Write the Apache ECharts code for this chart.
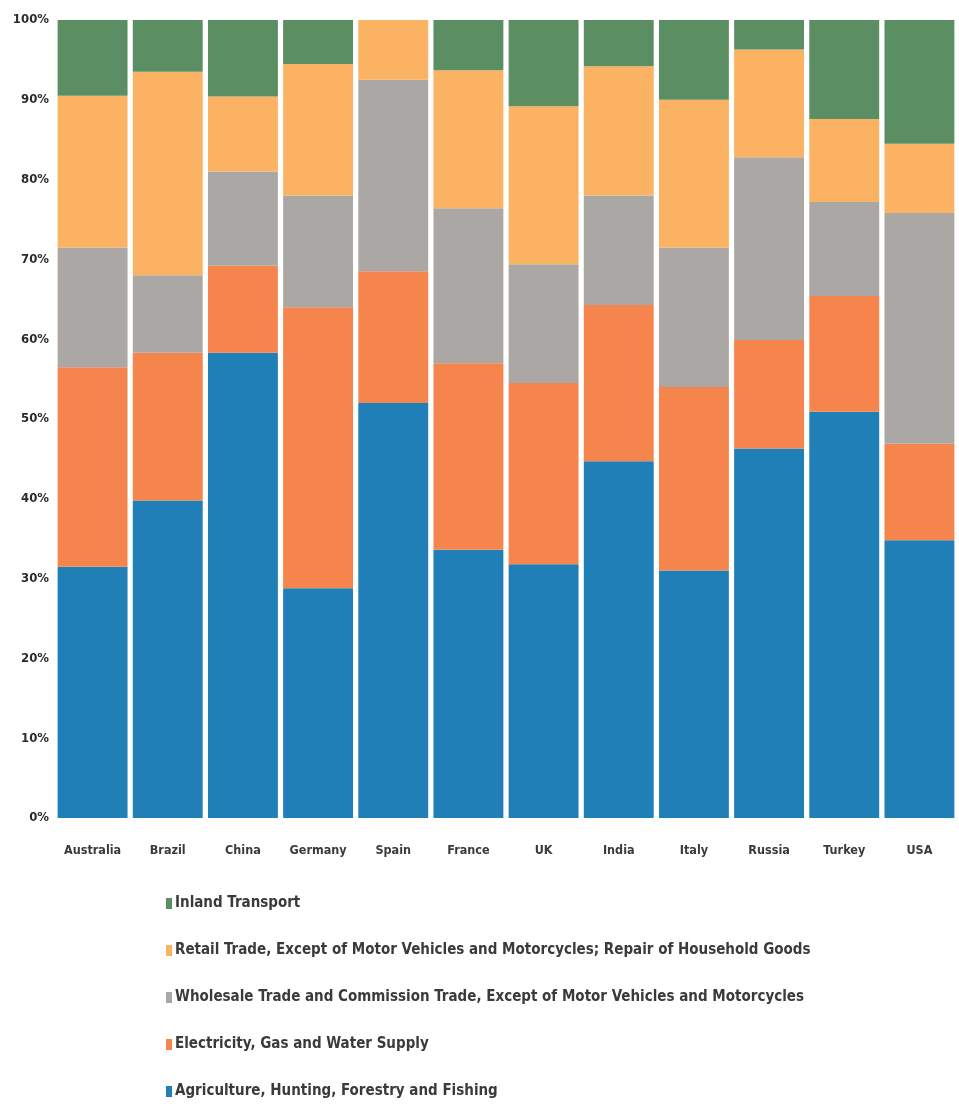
<!DOCTYPE html>
<html>
<head>
<meta charset="utf-8">
<script src="https://cdn.jsdelivr.net/npm/echarts@6/dist/echarts.min.js"></script>
<style>
html,body{margin:0;padding:0;background:#fff;}
#chart{width:959px;height:1104px;}
</style>
</head>
<body>
<div id="chart"></div>
<script>
var categories = ['Australia','Brazil','China','Germany','Spain','France','UK','India','Italy','Russia','Turkey','USA'];
var agriculture = [31.5, 39.8, 58.3, 28.8, 52.0, 33.6, 31.8, 44.7, 31.0, 46.3, 50.9, 34.8];
var electricity = [25.0, 18.5, 10.9, 35.2, 16.5, 23.4, 22.7, 19.6, 23.0, 13.6, 14.5, 12.1];
var wholesale   = [15.0,  9.7, 11.8, 14.0, 24.0, 19.4, 14.9, 13.7, 17.5, 22.9, 11.8, 28.9];
var retail      = [19.0, 25.5,  9.4, 16.5,  7.5, 17.3, 19.8, 16.2, 18.5, 13.5, 10.4,  8.7];
var transport   = [ 9.5,  6.5,  9.6,  5.5,  0.0,  6.3, 10.8,  5.8, 10.0,  3.7, 12.4, 15.5];
var yTicks = [0,10,20,30,40,50,60,70,80,90,100];

var names = {
  agri: 'Agriculture, Hunting, Forestry and Fishing',
  elec: 'Electricity, Gas and Water Supply',
  whole: 'Wholesale Trade and Commission Trade, Except of Motor Vehicles and Motorcycles',
  retail: 'Retail Trade, Except of Motor Vehicles and Motorcycles; Repair of Household Goods',
  trans: 'Inland Transport'
};
var colors = {
  agri: '#1f7fb6',
  elec: '#f5854c',
  whole: '#aba7a4',
  retail: '#fbb262',
  trans: '#5b8f63'
};
var FONT = '"DejaVu Sans Condensed",sans-serif';

function mk(key, data) {
  return {
    name: names[key], type: 'bar', stack: 'total', data: data,
    barCategoryGap: '7%',
    itemStyle: { color: colors[key] },
    emphasis: { disabled: true }
  };
}

var chart = echarts.init(document.getElementById('chart'), null, {renderer: 'canvas'});
chart.setOption({
  animation: false,
  backgroundColor: '#ffffff',
  grid: { left: 55, right: 2, top: 20, bottom: 286, containLabel: false },
  legend: {
    orient: 'vertical',
    left: 161, top: 891,
    itemWidth: 6, itemHeight: 11, itemGap: 32,
    icon: 'rect',
    textStyle: { fontFamily: FONT, fontSize: 15, fontWeight: 'bold', color: '#3a3a3a', padding: [0,0,0,-2] },
    data: [names.trans, names.retail, names.whole, names.elec, names.agri]
  },
  xAxis: {
    type: 'category', data: categories,
    axisLine: { show: false }, axisTick: { show: false },
    axisLabel: { interval: 0, margin: 26, fontFamily: FONT, fontSize: 12.5, fontWeight: 'bold', color: '#3a3a3a' }
  },
  yAxis: {
    type: 'value', min: 0, max: 100, interval: 10,
    splitLine: { show: false }, axisLine: { show: false }, axisTick: { show: false },
    axisLabel: { margin: 6, fontFamily: FONT, fontSize: 13, fontWeight: 'bold', color: '#2a2a2a',
      formatter: function (v) { return yTicks.indexOf(v) >= 0 ? v + '%' : ''; } }
  },
  series: [
    mk('agri', agriculture),
    mk('elec', electricity),
    mk('whole', wholesale),
    mk('retail', retail),
    mk('trans', transport)
  ]
});
</script>
</body>
</html>
